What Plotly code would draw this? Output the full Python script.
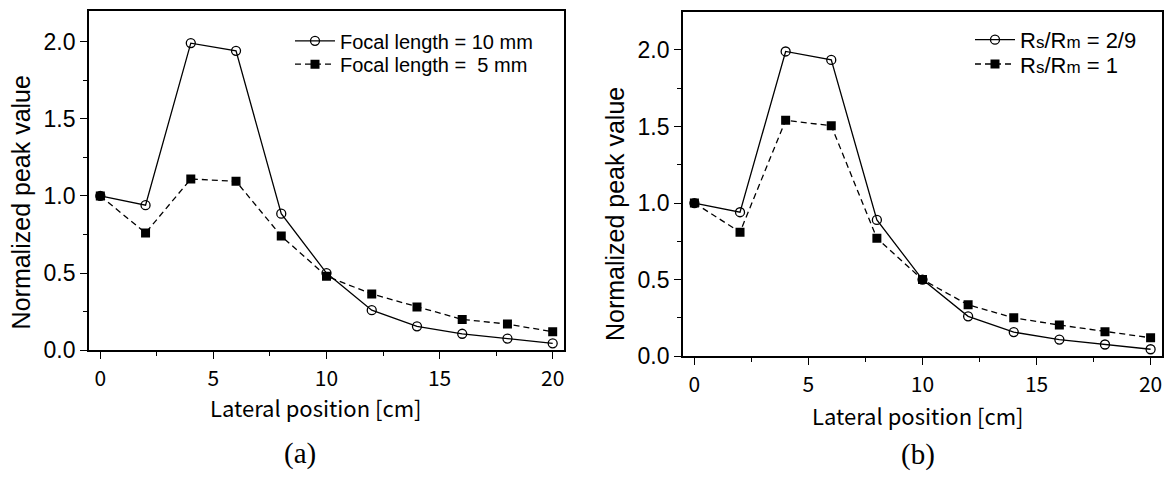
import plotly.graph_objects as go

# ---- data ----
lateral_cm = [0, 2, 4, 6, 8, 10, 12, 14, 16, 18, 20]

a_focal10 = [1.00, 0.94, 1.99, 1.94, 0.885, 0.50, 0.26, 0.155, 0.107, 0.076, 0.045]
a_focal5 = [1.00, 0.76, 1.11, 1.095, 0.74, 0.48, 0.365, 0.28, 0.20, 0.17, 0.12]

b_ratio29 = [1.00, 0.94, 1.99, 1.935, 0.89, 0.50, 0.26, 0.157, 0.108, 0.076, 0.045]
b_ratio1 = [1.00, 0.81, 1.54, 1.505, 0.77, 0.50, 0.335, 0.25, 0.203, 0.16, 0.12]

a_names = ["Focal length = 10 mm", "Focal length =\u00a0\u00a05 mm"]
SUB = "<span style='font-size:17px'>{}</span>"
b_names = ["R" + SUB.format("s") + "/R" + SUB.format("m") + " = 2/9",
           "R" + SUB.format("s") + "/R" + SUB.format("m") + " = 1"]

x_ticks = [0, 5, 10, 15, 20]
y_ticks = [0.0, 0.5, 1.0, 1.5, 2.0]
y_tick_text = ["0.0", "0.5", "1.0", "1.5", "2.0"]

W, H = 1168, 482
GOTHIC = "Noto Sans CJK JP"
SANS = "Liberation Sans"
SERIF = "Liberation Serif"

def px(x):
    return x / W

def py(y):
    return 1 - y / H

fig = go.Figure()

open_circle = dict(symbol="circle-open", size=9, color="black", line=dict(width=1.3, color="black"))
filled_square = dict(symbol="square", size=9, color="black", line=dict(width=0))

# panel (a)
fig.add_trace(go.Scatter(x=lateral_cm, y=a_focal10, mode="lines+markers", name=a_names[0],
                         line=dict(color="black", width=1.3), marker=open_circle,
                         xaxis="x", yaxis="y", legend="legend"))
fig.add_trace(go.Scatter(x=lateral_cm, y=a_focal5, mode="lines+markers", name=a_names[1],
                         line=dict(color="black", width=1.3, dash="6px,4px"), marker=filled_square,
                         xaxis="x", yaxis="y", legend="legend3"))
# panel (b)
fig.add_trace(go.Scatter(x=lateral_cm, y=b_ratio29, mode="lines+markers", name=b_names[0],
                         line=dict(color="black", width=1.3), marker=open_circle,
                         xaxis="x2", yaxis="y2", legend="legend2"))
fig.add_trace(go.Scatter(x=lateral_cm, y=b_ratio1, mode="lines+markers", name=b_names[1],
                         line=dict(color="black", width=1.3, dash="6px,4px"), marker=filled_square,
                         xaxis="x2", yaxis="y2", legend="legend4"))

def xaxis_style(domain, anchor):
    return dict(domain=domain, anchor=anchor, range=[-0.5, 20.5],
                tickvals=x_ticks, ticks="outside", ticklen=7, tickwidth=1.3, tickcolor="black",
                minor=dict(tickvals=[2.5, 7.5, 12.5, 17.5], ticks="outside", ticklen=4,
                           tickwidth=1.2, tickcolor="black"),
                showline=True, linecolor="black", linewidth=1.8, mirror=True,
                showgrid=False, zeroline=False, ticklabelstandoff=2,
                tickfont=dict(family=GOTHIC, size=21, color="black"))

def yaxis_style(domain, anchor, top):
    return dict(domain=domain, anchor=anchor, range=[0, top],
                tickvals=y_ticks, ticktext=y_tick_text, ticks="outside", ticklen=7,
                tickwidth=1.3, tickcolor="black",
                minor=dict(tickvals=[0.25, 0.75, 1.25, 1.75], ticks="outside", ticklen=4,
                           tickwidth=1.2, tickcolor="black"),
                showline=True, linecolor="black", linewidth=1.8, mirror=True,
                showgrid=False, zeroline=False,
                tickfont=dict(family=SANS, size=23, color="black"))

def legend_at(x, y, family, size):
    return dict(x=px(x), y=py(y), xanchor="left", yanchor="middle",
                bgcolor="rgba(0,0,0,0)", font=dict(family=family, size=size, color="black"),
                itemwidth=40, tracegroupgap=0, borderwidth=0)

fig.update_layout(
    width=W, height=H,
    margin=dict(l=0, r=0, t=0, b=0),
    paper_bgcolor="white", plot_bgcolor="white",
    xaxis=xaxis_style([px(89), px(564)], "y"),
    yaxis=yaxis_style([py(360), py(11)], "x", 2.2),
    xaxis2=xaxis_style([px(683), px(1162)], "y2"),
    yaxis2=yaxis_style([py(366), py(12)], "x2", 2.25),
    legend=legend_at(290, 42, SANS, 20),
    legend3=legend_at(290, 66, SANS, 20),
    legend2=legend_at(970, 41, SANS, 22),
    legend4=legend_at(970, 66, SANS, 22),
    showlegend=True,
)

annotations = [
    dict(text="Normalized peak value", x=px(21), y=py(208), textangle=-90,
         font=dict(family=SANS, size=25, color="black")),
    dict(text="Lateral position [cm]", x=px(315), y=py(418),
         font=dict(family=GOTHIC, size=22, color="black")),
    dict(text="(a)", x=px(300), y=py(466),
         font=dict(family=SERIF, size=29, color="black")),
    dict(text="Normalized peak value", x=px(615), y=py(220), textangle=-90,
         font=dict(family=SANS, size=25, color="black")),
    dict(text="Lateral position [cm]", x=px(917), y=py(426),
         font=dict(family=GOTHIC, size=22, color="black")),
    dict(text="(b)", x=px(918), y=py(467),
         font=dict(family=SERIF, size=29, color="black")),
]
for a in annotations:
    a.update(xref="paper", yref="paper", showarrow=False, xanchor="center", yanchor="middle")
fig.update_layout(annotations=annotations)

fig.write_html("out.html")
